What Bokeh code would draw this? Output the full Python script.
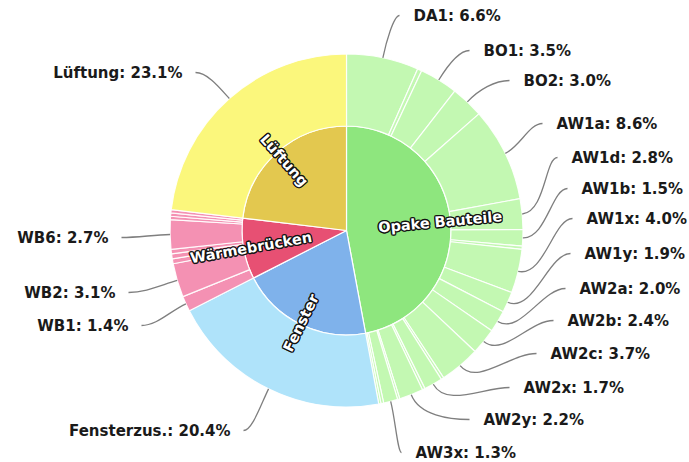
import math
from bokeh.plotting import figure
from bokeh.models import Range1d, ColumnDataSource
from bokeh.embed import file_html
from bokeh.resources import INLINE
from bokeh.core.properties import value

# ---------------- data ----------------
groups = ["Opake Bauteile", "Fenster", "Wärmebrücken", "Lüftung"]
inner_colors = ["#8ee67e", "#7fb2eb", "#e75073", "#e3c84f"]
outer_colors = ["#c3f8b2", "#afe3fa", "#f491b3", "#fbf77c"]

# outer ring, clockwise from 12 o'clock (None = small unlabeled element)
outer_names = ["DA1", None, "BO1", "BO2", "AW1a", "AW1d", "AW1b", None, "AW1x", "AW1y",
               "AW2a", "AW2b", "AW2c", None, "AW2x", None, "AW2y", None, "AW3x", None, None,
               "Fensterzus.",
               "WB1", "WB2", None, None, None, "WB6", None, None, None,
               "Lüftung"]
outer_values = [6.6, 0.4, 3.5, 3.0, 8.6, 2.8, 1.5, 0.3, 4.0, 1.9,
                2.0, 2.4, 3.7, 0.25, 1.7, 0.25, 2.2, 0.2, 1.3, 0.25, 0.2,
                20.4,
                1.4, 3.1, 0.45, 0.45, 0.4, 2.7, 0.3, 0.3, 0.3,
                23.1]
outer_group = [0] * 21 + [1] + [2] * 9 + [3]

# label layout (page pixel coords): right-side labels give left edge, left-side labels right edge
label_names = ["DA1", "BO1", "BO2", "AW1a", "AW1d", "AW1b", "AW1x", "AW1y", "AW2a", "AW2b",
               "AW2c", "AW2x", "AW2y", "AW3x", "Fensterzus.", "WB1", "WB2", "WB6", "Lüftung"]
label_px = [413, 483, 523, 556, 571, 581, 586, 584, 579, 567,
            550, 523, 483, 415, 230, 128, 115, 108, 182]
label_py = [15, 50, 80, 123, 157, 188, 218, 253, 288, 320,
            353, 387, 419, 452, 430, 325, 292, 237, 72]
# radial distance of the inner (group) labels, pixels
group_label_r = [94, 103, 97, 94]

# ---------------- geometry ----------------
W, H = 689, 462
CX, CY = 346, H - 230
R_IN, R_OUT = 104.5, 176.5

def Y(py):
    return H - py

total = sum(outer_values)
o_start, o_end = [], []
cum = 0.0
for v in outer_values:
    o_start.append(cum / total * 360.0)
    cum += v
    o_end.append(cum / total * 360.0)

g_start, g_end = [], []
cum = 0.0
for gi in range(len(groups)):
    s = sum(v for v, g in zip(outer_values, outer_group) if g == gi)
    g_start.append(cum / total * 360.0)
    cum += s
    g_end.append(cum / total * 360.0)

def to_bokeh(th):
    return math.radians(90.0 - th)

p = figure(width=W, height=H, x_range=Range1d(0, W), y_range=Range1d(0, H),
           output_backend="svg", toolbar_location=None, min_border=0,
           x_axis_type=None, y_axis_type=None, outline_line_color=None,
           background_fill_color="white", border_fill_color="white")
p.xgrid.visible = False
p.ygrid.visible = False

# inner pie
inner_src = ColumnDataSource(dict(
    x=[CX] * 4, y=[CY] * 4,
    start=[to_bokeh(e) for e in g_end], end=[to_bokeh(s) for s in g_start],
    color=inner_colors))
p.annular_wedge(x="x", y="y", inner_radius=0, outer_radius=R_IN,
                start_angle="start", end_angle="end", direction="anticlock",
                fill_color="color", line_color="white", line_width=1.2, source=inner_src)

# outer ring
outer_src = ColumnDataSource(dict(
    x=[CX] * len(outer_values), y=[CY] * len(outer_values),
    start=[to_bokeh(e) for e in o_end], end=[to_bokeh(s) for s in o_start],
    color=[outer_colors[g] for g in outer_group]))
p.annular_wedge(x="x", y="y", inner_radius=R_IN, outer_radius=R_OUT,
                start_angle="start", end_angle="end", direction="anticlock",
                fill_color="color", line_color="white", line_width=1.2, line_alpha=0.9,
                source=outer_src)

# leader lines + outer labels
bz = dict(x0=[], y0=[], x1=[], y1=[], cx0=[], cy0=[], cx1=[], cy1=[])
rt = dict(x=[], y=[], text=[])
lt = dict(x=[], y=[], text=[])
for name, lx, ly in zip(label_names, label_px, label_py):
    i = outer_names.index(name)
    th = 0.5 * (o_start[i] + o_end[i])
    ux, uy = math.sin(math.radians(th)), math.cos(math.radians(th))
    wx, wy = CX + R_OUT * ux, CY + R_OUT * uy
    LY = Y(ly)
    txt = f"{name}: {outer_values[i]:.1f}%"
    if lx > CX:
        x0 = lx - 14
        rt["x"].append(lx); rt["y"].append(LY); rt["text"].append(txt)
        sgn = -1
    else:
        x0 = lx + 13
        lt["x"].append(lx); lt["y"].append(LY); lt["text"].append(txt)
        sgn = 1
    d = math.hypot(x0 - wx, LY - wy)
    k1 = 0.35 * abs(x0 - wx)
    k2 = 0.35 * d
    bz["x0"].append(x0); bz["y0"].append(LY)
    bz["x1"].append(wx); bz["y1"].append(wy)
    bz["cx0"].append(x0 + sgn * k1); bz["cy0"].append(LY)
    bz["cx1"].append(wx + ux * k2); bz["cy1"].append(wy + uy * k2)

p.bezier(x0="x0", y0="y0", x1="x1", y1="y1", cx0="cx0", cy0="cy0", cx1="cx1", cy1="cy1",
         line_color="#7f7f7f", line_width=1.3, source=ColumnDataSource(bz))

font = value("DejaVu Sans")
p.text(x="x", y="y", text="text", source=ColumnDataSource(rt), text_align="left",
       text_baseline="middle", text_font=font, text_font_style="bold",
       text_font_size=value("15px"), text_color="#1a1a1a")
p.text(x="x", y="y", text="text", source=ColumnDataSource(lt), text_align="right",
       text_baseline="middle", text_font=font, text_font_style="bold",
       text_font_size=value("15px"), text_color="#1a1a1a")

# inner labels, radial orientation, white with thick dark outline
ix, iy, ia = [], [], []
for gi in range(len(groups)):
    th = 0.5 * (g_start[gi] + g_end[gi])
    phi = 90.0 - th
    r_lab = group_label_r[gi]
    ix.append(CX + r_lab * math.sin(math.radians(th)))
    iy.append(CY + r_lab * math.cos(math.radians(th)))
    rot = phi
    while rot > 90:
        rot -= 180
    while rot < -90:
        rot += 180
    ia.append(math.radians(rot))

halo_x, halo_y, halo_t, halo_a = [], [], [], []
for k in range(8):
    ang = 2 * math.pi * k / 8
    dx, dy = 1.4 * math.cos(ang), 1.4 * math.sin(ang)
    for gi in range(len(groups)):
        halo_x.append(ix[gi] + dx); halo_y.append(iy[gi] + dy)
        halo_t.append(groups[gi]); halo_a.append(ia[gi])
p.text(x="x", y="y", text="text", angle="a",
       source=ColumnDataSource(dict(x=halo_x, y=halo_y, text=halo_t, a=halo_a)),
       text_align="center", text_baseline="middle", text_font=font, text_font_style="bold",
       text_font_size=value("14.5px"), text_color="#111111")
p.text(x="x", y="y", text="text", angle="a",
       source=ColumnDataSource(dict(x=ix, y=iy, text=groups, a=ia)),
       text_align="center", text_baseline="middle", text_font=font, text_font_style="bold",
       text_font_size=value("14.5px"), text_color="white")

open("out.html", "w").write(file_html(p, INLINE))
